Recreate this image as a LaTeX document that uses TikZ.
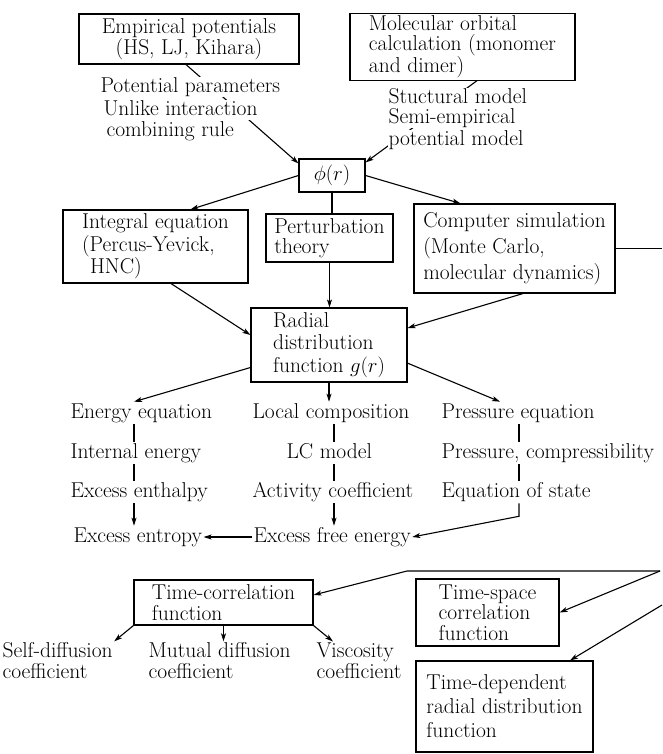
\documentclass[tikz,border=0pt]{standalone}
\usetikzlibrary{arrows.meta}
\begin{document}
\begin{tikzpicture}[x=1pt,y=-1pt,line width=1.1pt,>={Stealth[length=8pt,width=5pt,inset=2pt]},
	every node/.style={font=\fontsize{21.5}{21.5}\selectfont},
	lead/.style={font=\fontsize{21.5}{#1}\selectfont},
	box/.style={draw,line width=1.1pt,inner sep=2pt,align=left},
	lbl/.style={inner sep=1pt,text height=15pt,text depth=4.5pt,anchor=west},
	lblw/.style={lbl,inner ysep=0pt,fill=white},
	txt/.style={inner sep=1pt,anchor=west,align=left,lead=21}]
	\useasboundingbox (0,0) rectangle (662,754);
	\coordinate (rim) at (662,0);
	\coordinate (colA) at (134,0);
	\coordinate (colB) at (334,0);
	\coordinate (colC) at (519,0);
	% boxes
	\node[box,align=center,minimum width=220pt,minimum height=50pt] (emp) at (189,39) {Empirical potentials\\(HS, LJ, Kihara)};
	\node[box,lead=19.5,minimum width=225pt,minimum height=66pt] (mol) at (462.5,47) {Molecular orbital\\calculation (monomer\\and dimer)};
	\node[box,minimum width=66pt,minimum height=33pt] (phi) at (332,175.5) {$\phi(r)$};
	\node[box,lead=22.5,minimum width=185pt,minimum height=73pt] (intg) at (155.5,246.5) {Integral equation\\(Percus-Yevick,\\\hspace*{8pt}HNC)};
	\node[box,lead=20,minimum width=127pt,minimum height=48pt] (pert) at (329.5,238) {Perturbation\\theory};
	\node[box,lead=26,minimum width=201pt,minimum height=89pt] (comp) at (514.5,248.5) {Computer simulation\\(Monte Carlo,\\molecular dynamics)};
	\node[box,lead=22.5,minimum width=156pt,minimum height=74pt] (rdf) at (329,345) {Radial\\distribution\\function $g(r)$};
	\node[box,lead=21,minimum width=179pt,minimum height=45pt] (tcf) at (223.5,602.5) {Time-correlation\\function};
	\node[box,lead=20.5,minimum width=143pt,minimum height=67pt] (tsc) at (487.5,612.5) {Time-space\\correlation\\function};
	\node[box,lead=24,minimum width=177pt,minimum height=91pt] (tdr) at (504.5,706.5) {Time-dependent\\radial distribution\\function};
	% into phi(r)
	\draw[->] ([xshift=-3pt]emp.south) -- ([yshift=-5pt]phi.north west);
	\draw[->] ([xshift=14.5pt]mol.south) -- ([yshift=-4pt]phi.north east);
	\node[lblw] (pp1) at (99,87) {Potential parameters};
	\node[lblw] (pp2) at (102,110) {Unlike interaction};
	\node[lblw] (pp3) at (105,131) {combining rule};
	\node[lblw] (sm1) at (387,98) {Stuctural model};
	\node[lblw] (sm2) at (387,118) {Semi-empirical};
	\node[lblw] (sm3) at (387,140) {potential model};
	% out of phi(r)
	\draw[->] (phi.west) -- ([xshift=35pt]intg.north);
	\draw[->] (phi.east) -- ([xshift=-54pt]comp.north);
	\draw (phi.south) -- (phi.south |- pert.north);
	\draw[->] (pert.south) -- (pert.south |- rdf.north);
	\draw[->] ([xshift=15.5pt]intg.south) -- ([yshift=10pt]rdf.west);
	\draw[->] ([xshift=8.5pt]comp.south) -- ([yshift=17pt]rdf.east);
	\draw (comp.east) -- (comp.east -| rim);
	% three columns
	\node[lbl] (ee) at (69,413) {Energy equation};
	\node[lbl] (ie) at (69,453) {Internal energy};
	\node[lbl] (eh) at (69,492) {Excess enthalpy};
	\node[lbl] (es) at (72,537) {Excess entropy};
	\node[lbl] (lc) at (251,413) {Local composition};
	\node[lbl] (lcm) at (285,453) {LC model};
	\node[lbl] (ac) at (251,492) {Activity coefficient};
	\node[lbl] (fe) at (252,537) {Excess free energy};
	\node[lbl] (pe) at (440,413) {Pressure equation};
	\node[lbl] (pc) at (440,453) {Pressure, compressibility};
	\node[lbl] (eos) at (440,492) {Equation of state};
	\draw[->] (rdf.196) -- (colA |- ee.north);
	\draw[->] (rdf.south) -- (rdf.south |- lc.north);
	\draw[->] (rdf.-13) -- ([xshift=-18pt]pe.north);
	\draw (colA |- ee.south) -- (colA |- ie.north);
	\draw (colA |- ie.south) -- (colA |- eh.north);
	\draw[->] (colA |- eh.south) -- (colA |- es.north);
	\draw (colB |- lc.south) -- (colB |- lcm.north);
	\draw (colB |- lcm.south) -- (colB |- ac.north);
	\draw[->] (colB |- ac.south) -- (colB |- fe.north);
	\draw (colC |- pe.south) -- (colC |- pc.north);
	\draw (colC |- pc.south) -- (colC |- eos.north);
	\draw[->] (colC |- eos.south) -- ++(0,13) -- (fe.east);
	\draw[->] (fe.west) -- (es.east);
	% time correlation part
	\node[txt] (sd) at (1,661) {Self-diffusion\\coefficient};
	\node[txt] (md) at (147,661) {Mutual diffusion\\coefficient};
	\node[txt] (vc) at (315,661) {Viscosity\\coefficient};
	\coordinate (cornR) at (660,571);
	\coordinate (bendL) at (407,571);
	\coordinate (rimB) at (662,605);
	\draw[->] (cornR) -- (bendL) -- ([yshift=7.5pt]tcf.east);
	\draw[->] (cornR) -- (tsc.east);
	\draw[->] (rimB) -- ([xshift=65.5pt]tdr.north);
	\draw[->] (tcf.south west) -- (sd.north east);
	\draw[->] (tcf.south) -- (tcf.south |- md.north);
	\draw[->] (tcf.south east) -- ([xshift=18pt]vc.north west);
\end{tikzpicture}
\end{document}
